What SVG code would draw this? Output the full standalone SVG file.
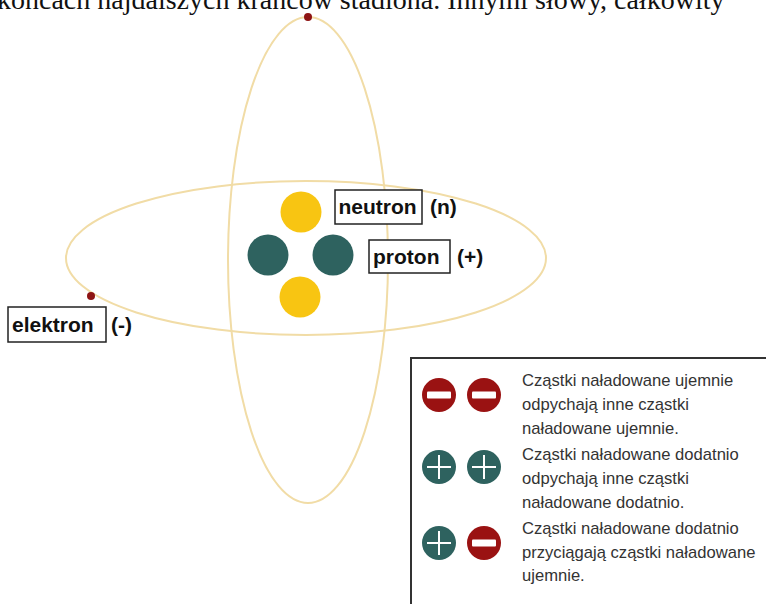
<svg xmlns="http://www.w3.org/2000/svg" width="766" height="604" viewBox="0 0 766 604">
  <style>
    .orbit { fill: none; stroke: #f1dca6; stroke-width: 2; }
    .electron { fill: #8e1414; }
    .neutron { fill: #f8c512; }
    .proton { fill: #2e625f; }
    .neg { fill: #9a1212; }
    .bar { fill: #ffffff; }
    .plus { stroke: #ffffff; stroke-width: 2; fill: none; }
    .lbl-box { fill: #ffffff; stroke: #222222; stroke-width: 1.5; }
    .lbl { font-family: "Liberation Sans", Arial, sans-serif; font-weight: bold; font-size: 21px; fill: #111111; }
    .legend-text { font-family: "Liberation Sans", Arial, sans-serif; font-size: 16.6px; fill: #333333; }
    .body-text { font-family: "Liberation Serif", "Times New Roman", serif; font-size: 28px; fill: #111111; }
  </style>

  <rect width="766" height="604" fill="#ffffff"/>

  <!-- running text of the page, clipped at the top edge -->
  <text class="body-text" x="-3" y="9">końcach najdalszych krańców stadiona. Innymi słowy, całkowity</text>

  <!-- electron orbits -->
  <g id="orbits">
    <ellipse id="orbit-vertical" class="orbit" cx="308" cy="260" rx="80" ry="243"/>
    <ellipse id="orbit-horizontal" class="orbit" cx="306" cy="258" rx="240" ry="77"/>
  </g>

  <!-- electrons on the orbits -->
  <g id="electron-top"><circle class="electron" cx="308" cy="17" r="4"/></g>
  <g id="electron-left"><circle class="electron" cx="91" cy="296" r="4"/></g>

  <!-- nucleus -->
  <g id="nucleus">
    <circle id="neutron-top" class="neutron" cx="301" cy="212" r="20.5"/>
    <circle id="proton-left" class="proton" cx="268" cy="255" r="20.5"/>
    <circle id="proton-right" class="proton" cx="333" cy="255" r="20.5"/>
    <circle id="neutron-bottom" class="neutron" cx="300" cy="297" r="20.5"/>
  </g>

  <!-- particle labels -->
  <g id="label-neutron">
    <rect class="lbl-box" x="335" y="190" width="87" height="34"/>
    <text class="lbl" x="338.5" y="214">neutron</text>
    <text class="lbl" x="430" y="214">(n)</text>
  </g>
  <g id="label-proton">
    <rect class="lbl-box" x="369" y="240" width="81" height="33"/>
    <text class="lbl" x="373" y="264">proton</text>
    <text class="lbl" x="457" y="264">(+)</text>
  </g>
  <g id="label-electron">
    <rect class="lbl-box" x="8" y="307" width="98" height="35"/>
    <text class="lbl" x="12" y="332">elektron</text>
    <text class="lbl" x="111" y="332">(-)</text>
  </g>

  <!-- legend of charge interactions -->
  <g id="legend">
    <path d="M411 604 V358 H766" fill="#ffffff" stroke="#333333" stroke-width="2"/>

    <g id="legend-neg-neg">
      <circle class="neg" cx="439" cy="395" r="17"/>
      <rect class="bar" x="427" y="391.5" width="24" height="7" rx="1"/>
      <circle class="neg" cx="484" cy="395" r="17"/>
      <rect class="bar" x="472" y="391.5" width="24" height="7" rx="1"/>
      <text class="legend-text" x="522" y="386">Cząstki naładowane ujemnie</text>
      <text class="legend-text" x="522" y="410">odpychają inne cząstki</text>
      <text class="legend-text" x="522" y="434">naładowane ujemnie.</text>
    </g>

    <g id="legend-pos-pos">
      <circle class="proton" cx="439" cy="467" r="17"/>
      <path class="plus" d="M427 467 H451 M439 455 V479"/>
      <circle class="proton" cx="484" cy="467" r="17"/>
      <path class="plus" d="M472 467 H496 M484 455 V479"/>
      <text class="legend-text" x="522" y="460">Cząstki naładowane dodatnio</text>
      <text class="legend-text" x="522" y="484">odpychają inne cząstki</text>
      <text class="legend-text" x="522" y="508">naładowane dodatnio.</text>
    </g>

    <g id="legend-pos-neg">
      <circle class="proton" cx="439" cy="543" r="17"/>
      <path class="plus" d="M427 543 H451 M439 531 V555"/>
      <circle class="neg" cx="484" cy="543" r="17"/>
      <rect class="bar" x="472" y="539.5" width="24" height="7" rx="1"/>
      <text class="legend-text" x="522" y="534">Cząstki naładowane dodatnio</text>
      <text class="legend-text" x="522" y="558">przyciągają cząstki naładowane</text>
      <text class="legend-text" x="522" y="581">ujemnie.</text>
    </g>
  </g>
</svg>
